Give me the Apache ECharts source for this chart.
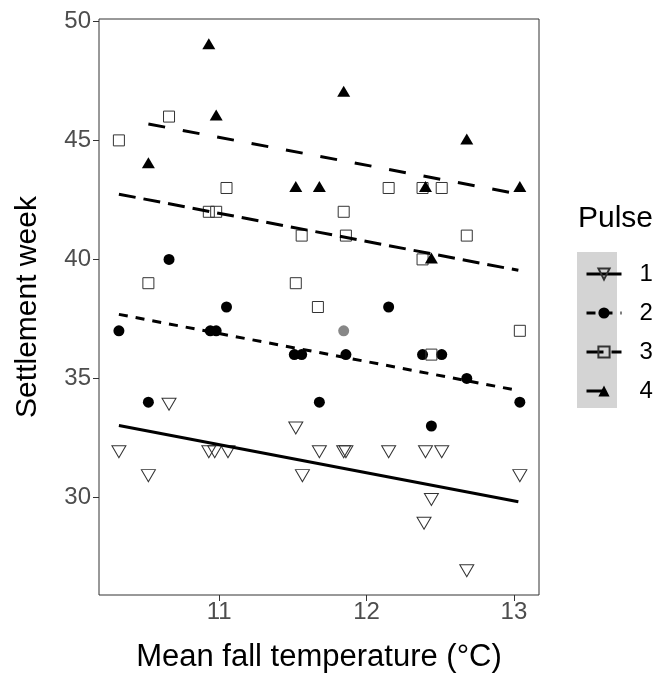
<!DOCTYPE html>
<html>
<head>
<meta charset="utf-8">
<script src="https://cdn.jsdelivr.net/npm/echarts@6/dist/echarts.min.js"></script>
<style>
  html, body { margin: 0; padding: 0; background: #fff; }
  #chart { width: 658px; height: 675px; }
</style>
</head>
<body>
<div id="chart"></div>
<script>
// ---- Data ----
// Pulse 1 (open down-triangles)
const temp1 = [10.32, 10.52, 10.66, 10.93, 10.97, 11.06, 11.52, 11.565, 11.68, 11.845, 11.86, 12.15, 12.40, 12.51, 12.44, 12.39, 12.68, 13.04];
const week1 = [32, 31, 34, 32, 32, 32, 33, 31, 32, 32, 32, 32, 32, 32, 30, 29, 27, 31];
// Pulse 2 (filled circles)
const temp2 = [10.32, 10.52, 10.66, 10.94, 10.98, 11.05, 11.51, 11.56, 11.68, 11.86, 12.15, 12.38, 12.51, 12.44, 12.68, 13.04];
const week2 = [37, 34, 40, 37, 37, 38, 36, 36, 34, 36, 38, 36, 36, 33, 35, 34];
// Pulse 2, grey point
const tempGrey = [11.845];
const weekGrey = [37];
// Pulse 3 (open squares)
const temp3 = [10.32, 10.52, 10.66, 10.93, 10.98, 11.05, 11.52, 11.56, 11.67, 11.845, 11.86, 12.15, 12.38, 12.51, 12.38, 12.68, 13.04, 12.44];
const week3 = [45, 39, 46, 42, 42, 43, 39, 41, 38, 42, 41, 43, 43, 43, 40, 41, 37, 36];
// Pulse 4 (filled up-triangles)
const temp4 = [10.52, 10.93, 10.98, 11.52, 11.68, 11.845, 12.40, 12.44, 12.68, 13.04];
const week4 = [44, 49, 46, 43, 43, 47, 43, 40, 45, 43];

// Fitted lines (end points)
const fitTemp1 = [10.32, 13.03];
const fitWeek1 = [33.02, 29.82];
const fitTemp2 = [10.32, 13.03];
const fitWeek2 = [37.69, 34.49];
const fitTemp3 = [10.32, 13.03];
const fitWeek3 = [42.74, 39.54];
const fitTemp4 = [10.52, 13.03];
const fitWeek4 = [45.69, 42.75];

const pulseNames = ['1', '2', '3', '4'];
const tempTicks = [11, 12, 13];
const weekTicks = [30, 35, 40, 45, 50];

// ---- Chart ----
const pairs = (xs, ys) => xs.map((x, i) => [x, ys[i]]);
const FONT = 'Liberation Sans, Arial, sans-serif';
const downTri = 'path://M0,0L2,0L1,1.732Z';
const openStyle = { color: 'rgba(0,0,0,0)', borderColor: '#333', borderWidth: 1, opacity: 1 };
const filledStyle = { color: '#000', borderWidth: 0, opacity: 1 };

function fitSeries(name, xs, ys, dash, symbol, itemStyle) {
  return {
    type: 'line', name: name, data: pairs(xs, ys),
    showSymbol: false, symbol: symbol, z: 3, silent: true,
    lineStyle: { color: '#000', width: 3, type: dash, cap: 'butt', opacity: 1 },
    itemStyle: itemStyle
  };
}

const chart = echarts.init(document.getElementById('chart'), null, { renderer: 'canvas' });
chart.setOption({
  animation: false,
  backgroundColor: '#fff',
  textStyle: { fontFamily: FONT },
  grid: {
    left: 99, right: 119, top: 19, bottom: 80, outerBoundsMode: 'none', containLabel: false,
    show: true, borderColor: '#333', borderWidth: 1, backgroundColor: 'rgba(0,0,0,0)'
  },
  title: {
    text: 'Pulse', left: 578, top: 204, padding: 0,
    textStyle: { fontSize: 30, fontWeight: 'normal', color: '#000', fontFamily: FONT }
  },
  graphic: [{
    type: 'rect', left: 577, top: 252, z: 0,
    shape: { width: 40, height: 156 }, style: { fill: '#d4d4d4' }
  }],
  legend: {
    data: pulseNames, orient: 'vertical', left: 580, top: 257,
    itemWidth: 35, itemHeight: 14, itemGap: 15, selectedMode: false,
    lineStyle: { width: 3, color: '#000' },
    textStyle: { fontSize: 24, color: '#000', fontFamily: FONT, lineHeight: 24, padding: [0, 0, 0, 13] }
  },
  xAxis: {
    type: 'value', min: 10.185, max: 13.17,
    name: 'Mean fall temperature (°C)', nameLocation: 'middle', nameGap: 47,
    nameTextStyle: { fontSize: 31, color: '#000', fontFamily: FONT },
    axisLine: { show: false },
    axisTick: { show: true, customValues: tempTicks, length: 6, lineStyle: { color: '#333', width: 1 } },
    axisLabel: { customValues: tempTicks, fontSize: 24, color: '#4d4d4d', margin: 5, fontFamily: FONT },
    splitLine: { show: false }
  },
  yAxis: {
    type: 'value', min: 25.9, max: 50.1,
    name: 'Settlement week', nameLocation: 'middle', nameGap: 56,
    nameTextStyle: { fontSize: 30, color: '#000', fontFamily: FONT },
    axisLine: { show: false },
    axisTick: { show: true, customValues: weekTicks, length: 6, lineStyle: { color: '#333', width: 1 } },
    axisLabel: { customValues: weekTicks, fontSize: 24, color: '#4d4d4d', margin: 8, fontFamily: FONT },
    splitLine: { show: false }
  },
  series: [
    fitSeries('1', fitTemp1, fitWeek1, 'solid', downTri, openStyle),
    fitSeries('2', fitTemp2, fitWeek2, [9, 8], 'circle', filledStyle),
    fitSeries('3', fitTemp3, fitWeek3, [17, 8], 'rect', openStyle),
    fitSeries('4', fitTemp4, fitWeek4, [17, 18], 'triangle', filledStyle),
    { type: 'scatter', name: '1', data: pairs(temp1, week1), symbol: downTri, symbolSize: [14, 12], symbolOffset: [0, 2], itemStyle: openStyle, z: 2 },
    { type: 'scatter', name: '2', data: pairs(temp2, week2), symbol: 'circle', symbolSize: 11, itemStyle: filledStyle, z: 2 },
    { type: 'scatter', name: 'grey', data: pairs(tempGrey, weekGrey), symbol: 'circle', symbolSize: 11, itemStyle: { color: '#878787', opacity: 1 }, z: 2 },
    { type: 'scatter', name: '3', data: pairs(temp3, week3), symbol: 'rect', symbolSize: 11, itemStyle: openStyle, z: 2 },
    { type: 'scatter', name: '4', data: pairs(temp4, week4), symbol: 'triangle', symbolSize: [13, 11], symbolOffset: [0, -1.5], itemStyle: filledStyle, z: 2 }
  ]
});
</script>
</body>
</html>
